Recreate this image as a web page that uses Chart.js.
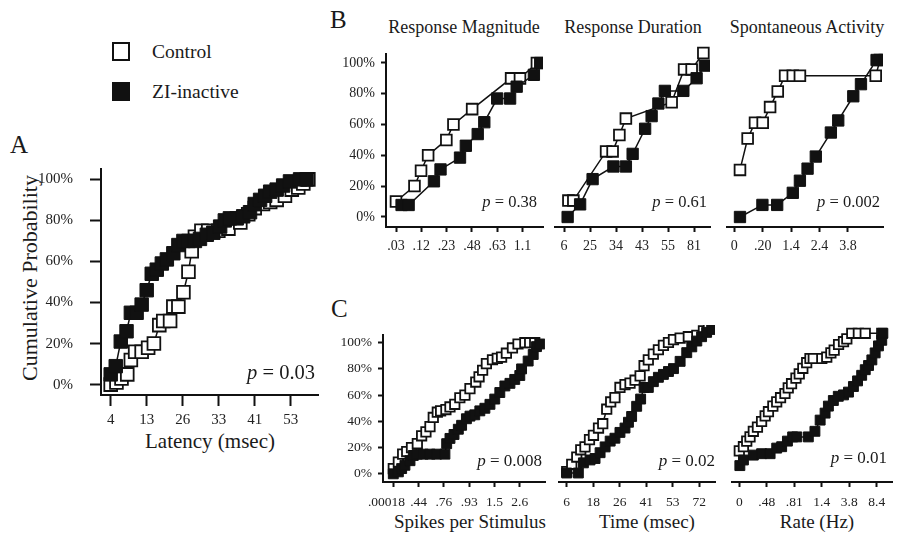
<!DOCTYPE html>
<html><head><meta charset="utf-8">
<script src="https://cdn.jsdelivr.net/npm/chart.js@4"></script>
<style>
body{margin:0;background:#fff;width:901px;height:539px;position:relative;overflow:hidden;font-family:"Liberation Serif","DejaVu Serif",serif;color:#1a1a1a}
canvas{position:absolute}
.t{position:absolute;white-space:nowrap;transform:translate(-50%,-50%)}
.l{position:absolute;white-space:nowrap;transform:translateY(-50%)}
.sq{position:absolute;width:14px;height:15px;border:2.5px solid #111;background:#fff}
</style></head><body>

<div class="l" style="left:10px;top:145px;font-size:25px">A</div>
<div class="l" style="left:330px;top:20px;font-size:25px">B</div>
<div class="l" style="left:331px;top:309px;font-size:25px">C</div>

<div class="sq" style="left:112px;top:42px"></div>
<div class="l" style="left:152px;top:52px;font-size:19.5px">Control</div>
<div class="sq" style="left:112px;top:82px;background:#111"></div>
<div class="l" style="left:152px;top:92px;font-size:19.5px">ZI-inactive</div>

<div class="t" style="left:30px;top:278px;font-size:22px;transform:translate(-50%,-50%) rotate(-90deg)">Cumulative Probability</div>
<div class="t" style="left:210px;top:441px;font-size:21px">Latency (msec)</div>

<div class="t" style="left:464px;top:27px;font-size:18px">Response Magnitude</div>
<div class="t" style="left:633px;top:27px;font-size:18px">Response Duration</div>
<div class="t" style="left:807px;top:27px;font-size:18px">Spontaneous Activity</div>

<div class="t" style="left:470px;top:522px;font-size:19px">Spikes per Stimulus</div>
<div class="t" style="left:647px;top:522px;font-size:19px">Time (msec)</div>
<div class="t" style="left:817px;top:522px;font-size:19px">Rate (Hz)</div>

<script>
const pct=[0,20,40,60,80,100];

/* A - latency */
const aTicks=['4','13','26','33','41','53'];
const aCtlX=[0,0.16,0.3,0.46,0.56,0.68,0.86,1.04,1.2,1.35,1.46,1.65,1.74,1.88,2.02,2.16,2.25,2.34,2.52,2.71,2.99,3.27,3.6,3.82,4.0,4.23,4.43,4.61,4.84,5.03,5.21,5.35,5.49];
const aCtlY=[0,1,3,5,12,16,16,18,20,29,31,31,38,38,45,55,65,72,75,75,75,76,79,83,86,88,89,90,92,95,96,98,100];
const aZiX=[0,0.14,0.28,0.44,0.56,0.72,0.86,1.0,1.14,1.28,1.42,1.56,1.74,1.88,2.02,2.16,2.34,2.48,2.67,2.85,3.04,3.17,3.31,3.5,3.68,3.87,4.0,4.15,4.29,4.43,4.61,4.79,4.98,5.26,5.44];
const aZiY=[5,9,21,26,35,35,39,46,54,56,59,61,64,68,70,70,70,71,73,74,77,80,81,81,82,84,88,90,92,94,95,97,99,100,100];

/* B - response magnitude, duration, spontaneous */
const b1Ticks=['.03','.12','.23','.48','.63','1.1'];
const b1CtlX=[0,0.73,0.99,1.27,1.99,2.27,3.01,4.55,4.9,5.57];
const b1CtlY=[10,20,30,40,50,60,70,90,90,100];
const b1ZiX=[0.22,0.5,1.5,1.76,2.53,2.76,3.23,3.49,4.0,4.51,4.77,5.45,5.7];
const b1ZiY=[7.7,7.7,23.1,30.8,38.5,46.2,53.8,61.5,76.9,76.9,84.6,92.3,100];

const b2Ticks=['6','25','34','43','55','81'];
const b2CtlX=[0.17,0.36,1.62,1.87,2.13,2.38,4.14,4.62,4.91,5.36];
const b2CtlY=[10,10,40,40,50,60,70,90,90,100];
const b2ZiX=[0.14,0.62,1.1,1.9,2.38,2.64,3.12,3.37,3.63,3.88,4.59,5.1,5.42];
const b2ZiY=[0,7.7,23.1,30.8,30.8,38.5,53.8,61.5,69.2,76.9,76.9,84.6,92.3];

const b3Ticks=['0','.20','1.4','2.4','3.8'];
const b3CtlX=[0.2,0.47,0.73,1.0,1.26,1.53,1.79,2.06,2.31,4.98,5.13];
const b3CtlY=[30,50,60,60,70,80,90,90,90,90,100];
const b3ZiX=[0.2,0.99,1.51,2.06,2.31,2.58,2.87,3.4,3.66,4.19,4.46,5.01,5.28];
const b3ZiY=[0,7.7,7.7,15.4,23.1,30.8,38.5,53.8,61.5,76.9,84.6,100,100];

/* C - spikes, time, rate */
const c1Ticks=['.00018','.44','.76','.93','1.5','2.6'];
const c1CtlX=[0,0.2,0.37,0.53,0.72,0.95,1.12,1.29,1.45,1.58,1.74,1.87,2.08,2.24,2.43,2.63,2.83,3.03,3.26,3.39,3.53,3.68,3.92,4.11,4.28,4.47,4.71,4.93,5.2,5.39,5.59];
const c1CtlY=[4,9,15,17,20,23,29,32,36,43,47,48,49,51,53,58,60,65,70,74,79,84,87,88,89,92,96,99,100,100,100];
const c1ZiX=[0,0.2,0.33,0.46,0.66,0.79,0.95,1.18,1.45,1.71,2.04,2.11,2.24,2.4,2.57,2.7,2.89,3.03,3.22,3.42,3.62,3.82,4.01,4.21,4.41,4.61,4.8,5.0,5.07,5.33,5.53,5.66,5.79];
const c1ZiY=[0,1.5,4,6.5,10,14,15,15,15,15,15,23,27,30,34,37,42,44,45,48,50,53,57,62,67,69,72,75,80,86,91,97,99];

const c2Ticks=['6','18','26','41','53','72'];
const c2CtlX=[0,0.19,0.38,0.53,0.69,0.86,1.01,1.2,1.36,1.51,1.66,1.82,2.01,2.2,2.39,2.58,2.77,2.92,3.08,3.27,3.46,3.65,3.84,4.03,4.28,4.59,4.91,5.16,5.35];
const c2CtlY=[1,6,11,16,18,23,26,31,34,44,49,52,59,61,62,64,67,74,78,82,85,88,90,92,93,94,95,98,100];
const c2ZiX=[0,0.44,0.63,0.88,1.07,1.26,1.45,1.64,1.82,2.01,2.2,2.33,2.45,2.64,2.79,2.92,3.08,3.27,3.46,3.65,3.84,4.03,4.28,4.53,4.72,4.91,5.09,5.28,5.47];
const c2ZiY=[0,0,7,9,10,14,18,22,24,28,31,35,39,46,51,59,59,63,66,68,70,72,77,83,87,91,94,97,99];

const c3Ticks=['0','.48','.81','1.4','3.8','8.4'];
const c3CtlX=[0,0.15,0.27,0.39,0.51,0.66,0.81,0.94,1.06,1.22,1.36,1.5,1.66,1.78,1.9,2.06,2.18,2.31,2.45,2.57,2.69,3.0,3.18,3.33,3.45,3.61,3.79,3.91,4.09,4.33,4.58,5.18];
const c3CtlY=[16,19,23,26,30,33,37,41,44,48,51,54,57,61,64,68,71,75,79,82,82,82,83,86,88,92,94,96,100,100,100,100];
const c3ZiX=[0.02,0.15,0.51,0.81,1.12,1.36,1.54,1.75,1.94,2.09,2.51,2.75,2.94,3.12,3.24,3.42,3.6,3.79,3.97,4.15,4.3,4.45,4.58,4.7,4.82,4.94,5.06,5.18,5.22];
const c3ZiY=[5.5,9.5,13,14,14,18,19,23,26,26,26,30,38,43,48,52,55,56,58,62,66,70,74,77,81,86,91,95,100];

const serif='"Liberation Serif","DejaVu Serif",serif';

/* p = ... text */
const pv={id:'pv',afterDraw(c,a,o){
let g=c.ctx;g.save();g.fillStyle='#1a1a1a';g.textBaseline='middle';
g.font='italic '+o.fs+'px '+serif;let w1=g.measureText('p').width;
g.font=o.fs+'px '+serif;let s=' = '+o.p;let w2=g.measureText(s).width;
let x=o.x-w1-w2;
g.font='italic '+o.fs+'px '+serif;g.fillText('p',x,o.y);
g.font=o.fs+'px '+serif;g.fillText(s,x+w1,o.y);
g.restore();
}};

function pts(xs,ys){return xs.map((x,i)=>({x:x,y:ys[i]}));}

function panel(o){
let yw=o.yAxis?70:10,xh=40,pt=12,pr=16;
let W=Math.round(o.right-o.left+yw+pr),H=Math.round(o.bottom-o.top+pt+xh);
let cl=o.left-yw,ct=o.top-pt;
let cv=document.createElement('canvas');
cv.style.left=cl+'px';cv.style.top=ct+'px';
cv.width=W;cv.height=H;cv.style.width=W+'px';cv.style.height=H+'px';
document.body.appendChild(cv);
let r=o.r;
new Chart(cv,{
type:'line',
data:{datasets:[
{data:pts(o.ziX,o.ziY),borderColor:'#111',borderWidth:1.5,pointStyle:'rect',pointRadius:r,pointBackgroundColor:'#111',pointBorderColor:'#111',pointBorderWidth:1,tension:0},
{data:pts(o.ctlX,o.ctlY),borderColor:'#111',borderWidth:1.5,pointStyle:'rect',pointRadius:r*0.95,pointBackgroundColor:'#fff',pointBorderColor:'#111',pointBorderWidth:1.8,tension:0}
]},
options:{
responsive:false,animation:false,events:[],
layout:{padding:{top:pt,right:pr,left:0,bottom:0}},
plugins:{legend:{display:false},tooltip:{enabled:false},
pv:{p:o.p,x:o.px-cl,y:o.py-ct,fs:o.pfs}},
scales:{
x:{type:'linear',min:(o.left-o.x0)/o.dx,max:(o.right-o.x0)/o.dx,
afterFit:s=>{s.height=xh;},
afterBuildTicks:s=>{s.ticks=o.ticks.map((t,i)=>({value:i}));},
// first label of C1 sits a little left of its tick in the original
ticks:{callback:(v,i)=>(i===0&&o.shift0)?o.ticks[i]+'\u2003':o.ticks[i],font:{family:serif,size:o.fs},color:'#222',padding:o.xpad,maxRotation:0,autoSkip:false},
grid:{drawOnChartArea:false,tickLength:o.tl,tickWidth:2,tickColor:'#111'},
border:{color:'#111',width:2}},
y:{type:'linear',min:(o.y0-o.bottom)/o.dy,max:(o.y0-o.top)/o.dy,
afterFit:s=>{s.width=yw;},
afterBuildTicks:s=>{s.ticks=pct.map(v=>({value:v}));},
ticks:{display:o.yAxis,callback:v=>v+'%',font:{family:serif,size:o.fs},color:'#222',padding:o.ypad},
grid:{display:o.yAxis,drawOnChartArea:false,tickLength:o.tl,tickWidth:2,tickColor:'#111'},
border:{display:o.yAxis,color:'#111',width:2}}
}},
plugins:[pv]
});
}

panel({left:101,right:318,top:155,bottom:395,x0:110.7,dx:36,y0:384,dy:2.18,ticks:aTicks,
ctlX:aCtlX,ctlY:aCtlY,ziX:aZiX,ziY:aZiY,yAxis:true,r:9.5,fs:15,tl:11,xpad:5,ypad:17,p:'0.03',px:315,py:374,pfs:20.5});

panel({left:386,right:543,top:52,bottom:227,x0:396,dx:25.3,y0:216.7,dy:1.56,ticks:b1Ticks,
ctlX:b1CtlX,ctlY:b1CtlY,ziX:b1ZiX,ziY:b1ZiY,yAxis:true,r:8,fs:14,tl:5,xpad:6,ypad:6,p:'0.38',px:537,py:203,pfs:16.5});
panel({left:555,right:710,top:45,bottom:227,x0:564,dx:26,y0:217,dy:1.64,ticks:b2Ticks,
ctlX:b2CtlX,ctlY:b2CtlY,ziX:b2ZiX,ziY:b2ZiY,yAxis:false,r:8,fs:14,tl:5,xpad:6,ypad:6,p:'0.61',px:707,py:203,pfs:16.5});
panel({left:727,right:883,top:52,bottom:227,x0:734.3,dx:28.4,y0:217,dy:1.57,ticks:b3Ticks,
ctlX:b3CtlX,ctlY:b3CtlY,ziX:b3ZiX,ziY:b3ZiY,yAxis:false,r:8,fs:14,tl:5,xpad:6,ypad:6,p:'0.002',px:880,py:203,pfs:16.5});

panel({left:383,right:545,top:333,bottom:482,x0:393.3,dx:25.3,y0:473.7,dy:1.33,ticks:c1Ticks,shift0:true,
ctlX:c1CtlX,ctlY:c1CtlY,ziX:c1ZiX,ziY:c1ZiY,yAxis:true,r:7,fs:13.5,tl:5,xpad:7,ypad:6,p:'0.008',px:542,py:462,pfs:17});
panel({left:559,right:715,top:325,bottom:482,x0:566.7,dx:26.5,y0:473,dy:1.45,ticks:c2Ticks,
ctlX:c2CtlX,ctlY:c2CtlY,ziX:c2ZiX,ziY:c2ZiY,yAxis:false,r:7,fs:13.5,tl:5,xpad:7,ypad:6,p:'0.02',px:715,py:462,pfs:17});
panel({left:732,right:892,top:325,bottom:482,x0:739.3,dx:27.5,y0:473.3,dy:1.4,ticks:c3Ticks,
ctlX:c3CtlX,ctlY:c3CtlY,ziX:c3ZiX,ziY:c3ZiY,yAxis:false,r:7,fs:13.5,tl:5,xpad:7,ypad:6,p:'0.01',px:887,py:459,pfs:17});
</script>
</body></html>
